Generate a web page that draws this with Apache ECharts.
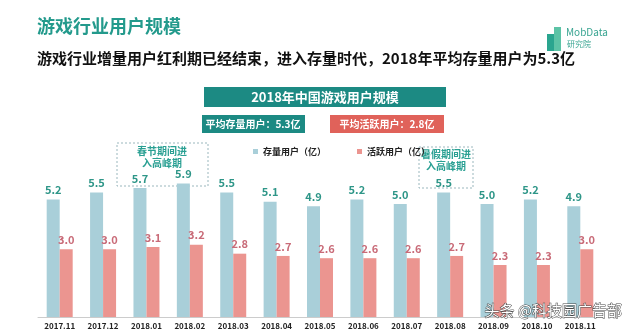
<!DOCTYPE html>
<html><head><meta charset="utf-8">
<script src="https://cdn.jsdelivr.net/npm/echarts@6/dist/echarts.min.js"></script>
<style>html,body{margin:0;padding:0;background:#fff}#c{width:640px;height:332px}</style>
</head><body><div id="c"></div>
<script>
var categories = ['2017.11','2017.12','2018.01','2018.02','2018.03','2018.04','2018.05','2018.06','2018.07','2018.08','2018.09','2018.10','2018.11'];
var stockUsers = [5.2,5.5,5.7,5.9,5.5,5.1,4.9,5.2,5.0,5.5,5.0,5.2,4.9];
var activeUsers = [3.0,3.0,3.1,3.2,2.8,2.7,2.6,2.6,2.6,2.7,2.3,2.3,3.0];
var seriesNames = ['存量用户（亿）','活跃用户（亿）'];

var F = '"Noto Sans CJK SC", sans-serif';
var chart = echarts.init(document.getElementById('c'));
chart.setOption({
  backgroundColor:'#fff',
  animation:false,
  grid:{left:38,right:38,top:170,bottom:15},
  legend:{
    top:142,left:248,itemWidth:5,itemHeight:5,itemGap:31,icon:'rect',
    textStyle:{fontFamily:F,fontSize:9,fontWeight:'bold',color:'#222'},
    data:seriesNames
  },
  xAxis:{type:'category',data:categories,
    axisLine:{lineStyle:{color:'#cccccc'}},axisTick:{show:false},
    axisLabel:{interval:0,fontFamily:F,fontSize:8,fontWeight:'bold',color:'#222',margin:5}},
  yAxis:{type:'value',min:0,max:6.5,show:false,splitLine:{show:false}},
  series:[
    {name:seriesNames[0],type:'bar',data:stockUsers,barWidth:13,barGap:'0%',
     itemStyle:{color:'#a9cfd9'},
     label:{show:true,position:'top',distance:4,formatter:function(p){return p.value.toFixed(1);},
       fontFamily:F,fontSize:11,fontWeight:'bold',color:'#2e9688'}},
    {name:seriesNames[1],type:'bar',data:activeUsers,barWidth:13,
     itemStyle:{color:'#eb9590'},
     label:{show:true,position:'top',distance:4,formatter:function(p){return p.value.toFixed(1);},
       fontFamily:F,fontSize:11,fontWeight:'bold',color:'#c96b78'}}
  ],
  graphic:[
    {type:'text',left:37,top:17,style:{text:'游戏行业用户规模',fontFamily:F,fontSize:18,fontWeight:'bold',fill:'#239a8c'}},
    {type:'text',left:37,top:51,style:{text:'游戏行业增量用户红利期已经结束，进入存量时代，2018年平均存量用户为5.3亿',fontFamily:F,fontSize:15,fontWeight:'bold',fill:'#111'}},
    {type:'rect',shape:{x:547,y:34,width:7,height:17},style:{fill:'#2aa58f'}},
    {type:'rect',shape:{x:554,y:27,width:7,height:24},style:{fill:'#5cc3a6'}},
    {type:'text',left:566,top:27,style:{text:'MobData',fontFamily:F,fontSize:10,fill:'#3aa592'}},
    {type:'text',left:567,top:40,style:{text:'研究院',fontFamily:F,fontSize:8,fill:'#3aa592'}},
    {type:'rect',shape:{x:204,y:87,width:242,height:20},style:{fill:'#1c8a83'}},
    {type:'text',x:325,y:97,style:{text:'2018年中国游戏用户规模',align:'center',verticalAlign:'middle',fontFamily:F,fontSize:13,fontWeight:'bold',fill:'#fff'}},
    {type:'rect',shape:{x:202,y:115,width:103,height:18},style:{fill:'#1c8a83'}},
    {type:'text',x:253,y:124,style:{text:'平均存量用户：5.3亿',align:'center',verticalAlign:'middle',fontFamily:F,fontSize:10,fontWeight:'bold',fill:'#fff'}},
    {type:'rect',shape:{x:330,y:115,width:114,height:18},style:{fill:'#e0625a'}},
    {type:'text',x:387,y:124,style:{text:'平均活跃用户：2.8亿',align:'center',verticalAlign:'middle',fontFamily:F,fontSize:10,fontWeight:'bold',fill:'#fff'}},
    {type:'rect',shape:{x:117,y:143,width:91,height:43},style:{fill:'none',stroke:'#9ab7bd',lineWidth:1,lineDash:[2,2]}},
    {type:'text',x:162,y:157,style:{text:'春节期间进\n入高峰期',align:'center',verticalAlign:'middle',lineHeight:12,fontFamily:F,fontSize:10,fontWeight:'bold',fill:'#2aa093'}},
    {type:'rect',shape:{x:419,y:147,width:54,height:41},style:{fill:'none',stroke:'#9ab7bd',lineWidth:1,lineDash:[2,2]}},
    {type:'text',x:446,y:160,style:{text:'暑假期间进\n入高峰期',align:'center',verticalAlign:'middle',lineHeight:12,fontFamily:F,fontSize:10,fontWeight:'bold',fill:'#2aa093'}},
    {type:'text',left:484,top:302,z:100,style:{text:'头条 @科技园广告部',fontFamily:F,fontSize:15,fill:'#fff',stroke:'#444',lineWidth:1}}
  ]
});
</script></body></html>
